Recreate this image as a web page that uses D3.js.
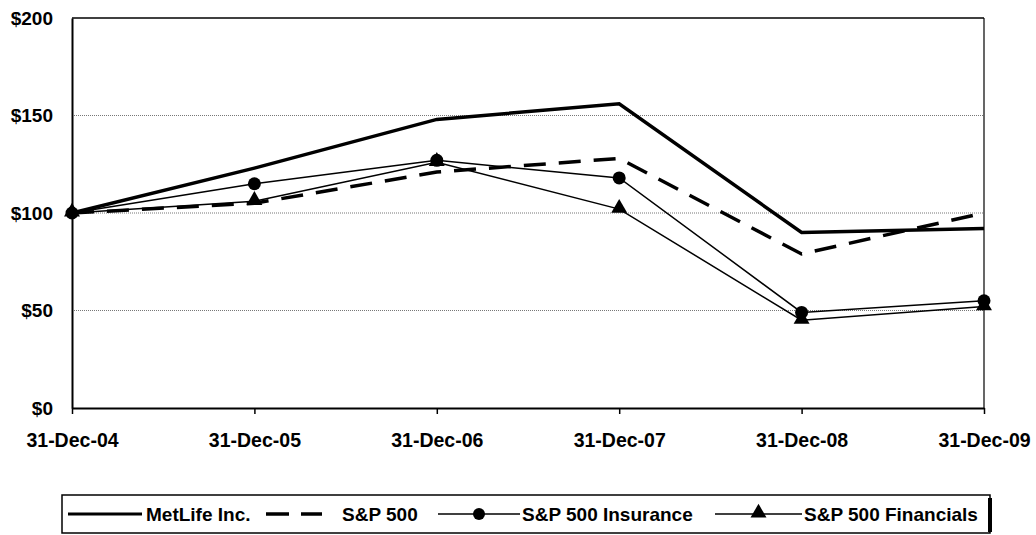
<!DOCTYPE html>
<html>
<head>
<meta charset="utf-8">
<script src="https://cdn.jsdelivr.net/npm/d3@7"></script>
<style>
  body { margin: 0; background: #fff; }
  text { font-family: "Liberation Sans", Arial, sans-serif; font-weight: bold; fill: #000; }
</style>
</head>
<body>
<div id="chart"></div>
<script>
// data
var dates = ["31-Dec-04", "31-Dec-05", "31-Dec-06", "31-Dec-07", "31-Dec-08", "31-Dec-09"];
var metlife = [100, 123, 148, 156, 90, 92];
var sp500 = [100, 105, 121, 128, 79, 100];
var spInsurance = [100, 115, 127, 118, 49, 55];
var spFinancials = [100, 106, 126, 102, 45, 52];
var yTicks = [0, 50, 100, 150, 200];

var W = 1036, H = 535;
var margin = {top: 18, right: 52, bottom: 127, left: 72},
    width = W - margin.left - margin.right,
    height = H - margin.top - margin.bottom;

var svg = d3.select("#chart").append("svg")
    .attr("width", W).attr("height", H)
    .append("g")
    .attr("transform", "translate(" + margin.left + "," + margin.top + ")");

var x = d3.scalePoint().domain(dates).range([0, width]);
var y = d3.scaleLinear().domain([0, 200]).range([height, 0]);

// grid lines
svg.selectAll(".grid")
    .data([50, 100, 150])
    .enter().append("line")
    .attr("x1", 0).attr("x2", width)
    .attr("y1", d => y(d)).attr("y2", d => y(d))
    .attr("stroke", "#777").attr("stroke-width", 1)
    .attr("stroke-dasharray", "1,1");

// frame top + right
svg.append("line").attr("x1", 0).attr("x2", width).attr("y1", y(200)).attr("y2", y(200))
    .attr("stroke", "#000").attr("stroke-width", 1.5);
svg.append("line").attr("x1", width).attr("x2", width).attr("y1", y(200)).attr("y2", height)
    .attr("stroke", "#000").attr("stroke-width", 1.2);

// axes
var yAxis = svg.append("g")
    .call(d3.axisLeft(y).tickValues(yTicks).tickSize(0).tickPadding(19).tickFormat(d => "$" + d));
yAxis.select(".domain").attr("stroke", "#000").attr("stroke-width", 2);
yAxis.selectAll("text").style("font-size", "19px");

var xAxis = svg.append("g")
    .attr("transform", "translate(0," + height + ")")
    .call(d3.axisBottom(x).tickSize(6).tickSizeOuter(0));
xAxis.select(".domain").attr("stroke", "#000").attr("stroke-width", 2);
xAxis.selectAll(".tick line").attr("stroke", "#000").attr("stroke-width", 1.5);
xAxis.selectAll("text").style("font-size", "19.5px").attr("y", 39).attr("dy", 0);

// series lines
var line = d3.line().x((d, i) => x(dates[i])).y(d => y(d));

svg.append("path").datum(spFinancials).attr("d", line)
    .attr("fill", "none").attr("stroke", "#000").attr("stroke-width", 1.5);
svg.append("path").datum(spInsurance).attr("d", line)
    .attr("fill", "none").attr("stroke", "#000").attr("stroke-width", 1.5);
svg.append("path").datum(sp500).attr("d", line)
    .attr("fill", "none").attr("stroke", "#000").attr("stroke-width", 3.5)
    .attr("stroke-dasharray", "22,13");
svg.append("path").datum(metlife).attr("d", line)
    .attr("fill", "none").attr("stroke", "#000").attr("stroke-width", 3.5);

// markers
var tri = d3.symbol().type(d3.symbolTriangle).size(110);
svg.selectAll(".tri")
    .data(spFinancials)
    .enter().append("path")
    .attr("d", tri)
    .attr("transform", (d, i) => "translate(" + x(dates[i]) + "," + (y(d) - 1) + ")")
    .attr("fill", "#000");

svg.selectAll(".dot")
    .data(spInsurance)
    .enter().append("circle")
    .attr("cx", (d, i) => x(dates[i]))
    .attr("cy", d => y(d))
    .attr("r", 6.5)
    .attr("fill", "#000");

//----------------------------
// Legend
//----------------------------
var legend = d3.select("svg").append("g").attr("transform", "translate(62,495)");
legend.append("rect")
    .attr("x", 0).attr("y", 0).attr("width", 928).attr("height", 38)
    .attr("fill", "none").attr("stroke", "#000").attr("stroke-width", 1.5);
legend.append("line").attr("x1", 928).attr("x2", 928).attr("y1", 3).attr("y2", 37)
    .attr("stroke", "#000").attr("stroke-width", 4);

var ly = 19;
var items = [
    {name: "MetLife Inc.", x0: 6, x1: 80, tx: 84, dash: null, w: 3, mark: null},
    {name: "S&P 500", x0: 204, x1: 260, tx: 280, dash: "23,12", w: 3.5, mark: null},
    {name: "S&P 500 Insurance", x0: 376, x1: 458, tx: 460, dash: null, w: 1.5, mark: "circle"},
    {name: "S&P 500 Financials", x0: 653, x1: 740, tx: 742, dash: null, w: 1.5, mark: "tri"}
];

items.forEach(function (it) {
    legend.append("line")
        .attr("x1", it.x0).attr("x2", it.x1).attr("y1", ly).attr("y2", ly)
        .attr("stroke", "#000").attr("stroke-width", it.w)
        .attr("stroke-dasharray", it.dash);
    var mx = (it.x0 + it.x1) / 2;
    if (it.mark === "circle") {
        legend.append("circle").attr("cx", mx).attr("cy", ly).attr("r", 6).attr("fill", "#000");
    } else if (it.mark === "tri") {
        legend.append("path").attr("d", tri)
            .attr("transform", "translate(" + mx + "," + (ly - 1) + ")").attr("fill", "#000");
    }
    legend.append("text")
        .attr("x", it.tx).attr("y", ly + 7)
        .style("font-size", "19px")
        .text(it.name);
});
</script>
</body>
</html>
